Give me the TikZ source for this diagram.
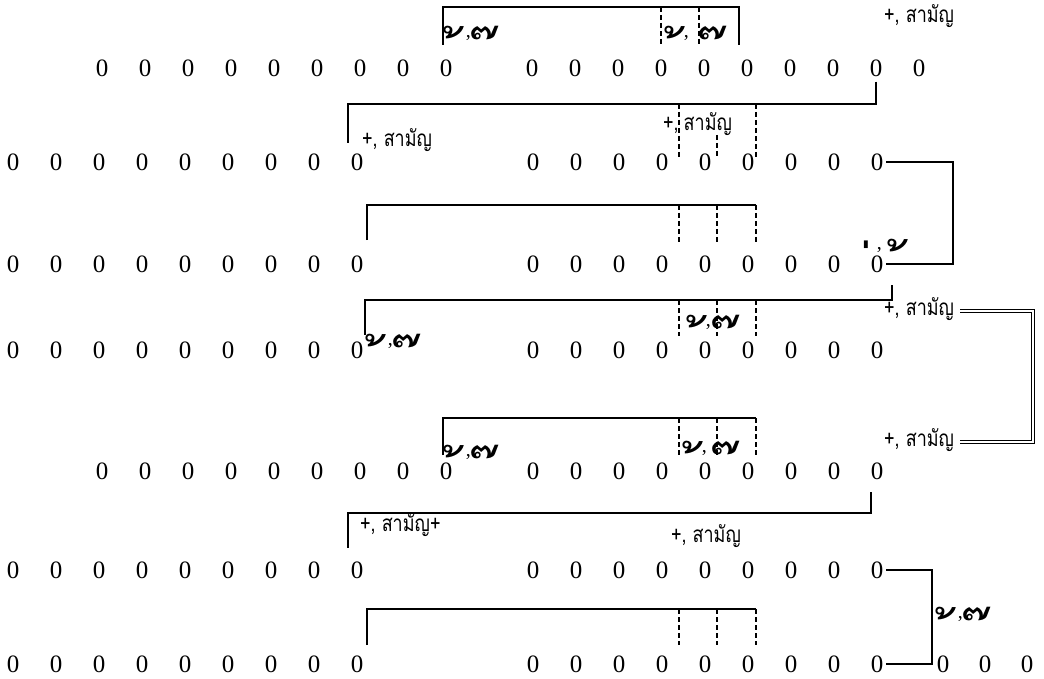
\documentclass[tikz,border=0pt]{standalone}
\usepackage{fontspec}
\setmainfont{Liberation Serif}
\newfontfamily\thaifont[Script=Thai]{Loma}
\newfontfamily\thailab[Script=Thai,FakeStretch=0.8]{Loma}
\newcommand\zerofont{\fontsize{25}{25}\selectfont}
\newcommand\labfont{\thailab\fontsize{22.5}{22.5}\selectfont}
\newcommand\tmk[1]{\raisebox{-48pt}[12pt][0pt]{\thaifont\fontsize{56}{56}\selectfont\char"A0#1}}
\newcommand\tcm{{\fontsize{20}{20}\selectfont,}}
\newcommand\tpair[2]{\tmk{#1}\hspace{3pt}\tcm\hspace{9pt}\tmk{#2}}
\newcommand\vseg[5]{\coordinate (#1t) at (#2,#3); \coordinate (#1b) at (#2,#4); \draw[#5] (#1t) -- (#1b);}
\begin{document}
\begin{tikzpicture}[x=1pt,y=-1pt,
  zero/.style={font=\zerofont, inner sep=0pt},
  lab/.style={font=\labfont, inner sep=0pt},
  tone/.style={inner sep=0pt, anchor=base west},
  ln/.style={line width=1.4pt},
  dl/.style={line width=1.1pt, dash pattern=on 5pt off 3pt},
  dbl/.style={double, double distance=2.2pt, line width=1pt}]
\useasboundingbox[fill=white] (0,0) rectangle (1044,679);
% ---------- rows of zeros ----------
\foreach \k in {1,...,9} \node[zero] (r1a\k) at ({102+43*(\k-1)},68) {0};
\foreach \k in {1,...,10} \node[zero] (r1b\k) at ({532+43*(\k-1)},68) {0};
\foreach \k in {1,...,9} \node[zero] (r2a\k) at ({13+43*(\k-1)},162) {0};
\foreach \k in {1,...,9} \node[zero] (r2b\k) at ({533+43*(\k-1)},162) {0};
\foreach \k in {1,...,9} \node[zero] (r3a\k) at ({13+43*(\k-1)},264) {0};
\foreach \k in {1,...,9} \node[zero] (r3b\k) at ({533+43*(\k-1)},264) {0};
\foreach \k in {1,...,9} \node[zero] (r4a\k) at ({13+43*(\k-1)},350) {0};
\foreach \k in {1,...,9} \node[zero] (r4b\k) at ({533+43*(\k-1)},350) {0};
\foreach \k in {1,...,9} \node[zero] (r5a\k) at ({102+43*(\k-1)},471) {0};
\foreach \k in {1,...,9} \node[zero] (r5b\k) at ({533+43*(\k-1)},471) {0};
\foreach \k in {1,...,9} \node[zero] (r6a\k) at ({13+43*(\k-1)},570) {0};
\foreach \k in {1,...,9} \node[zero] (r6b\k) at ({533+43*(\k-1)},570) {0};
\foreach \k in {1,...,9} \node[zero] (r7a\k) at ({13+43*(\k-1)},664) {0};
\foreach \k in {1,...,9} \node[zero] (r7b\k) at ({533+43*(\k-1)},664) {0};
\foreach \k in {1,...,3} \node[zero] (r7c\k) at ({943+42*(\k-1)},664) {0};
% ---------- bracket 1 ----------
\coordinate (b1l) at (443,45); \coordinate (b1tl) at (443,7);
\coordinate (b1tr) at (739,7); \coordinate (b1r) at (739,45);
\draw[ln] (b1l) -- (b1tl) -- (b1tr) -- (b1r);
\vseg{d1a}{661}{7}{45}{dl}
\vseg{d1b}{699}{7}{45}{dl}
\node[tone] (t1a) at (447,38) {\tpair{้}{๊}};
\node[tone] (t1b) at (668,38) {\tmk{้}\tcm};
\node[tone] (t1c) at (708,38) {\tmk{๊}};
\node[lab,anchor=west] (L1) at (884,16) {+, สามัญ};
% ---------- bracket 2 ----------
\coordinate (b2l) at (348,104); \coordinate (b2e) at (348,143);
\draw[ln] ([yshift=-5pt]r1b9.south) |- (b2l) -- (b2e);
\vseg{d2a}{679}{104}{158}{dl}
\vseg{d2b}{717}{135}{158}{dl}
\vseg{d2c}{756}{104}{158}{dl}
\node[lab,anchor=west] (L2a) at (362,140) {+, สามัญ};
\node[lab,anchor=west] (L2b) at (663,124) {+,\hspace{5pt}สามัญ};
% ---------- connector rows 2-3 ----------
\coordinate (c23) at (953,210);
\draw[ln] ([xshift=3pt]r2b9.east) -| (c23) |- ([xshift=3pt]r3b9.east);
\node[tone] (t3) at (858,250) {\tpair{่}{้}};
% ---------- bracket 3 ----------
\coordinate (b3l) at (367,240); \coordinate (b3tl) at (367,205); \coordinate (b3tr) at (756,205);
\draw[ln] (b3l) -- (b3tl) -- (b3tr);
\vseg{d3a}{679}{205}{242}{dl}
\vseg{d3b}{717}{205}{242}{dl}
\vseg{d3c}{756}{205}{242}{dl}
% ---------- bracket 4 ----------
\coordinate (b4r) at (892,285); \coordinate (b4l) at (365,300); \coordinate (b4e) at (365,335);
\draw[ln] (b4r) |- (b4l) -- (b4e);
\vseg{d4a}{679}{300}{336}{dl}
\vseg{d4b}{717}{300}{336}{dl}
\vseg{d4c}{756}{300}{336}{dl}
\node[tone] (t4a) at (369,345) {\tpair{้}{๊}};
\node[tone] (t4b) at (690,326) {\tmk{้}\tcm};
\node[tone] (t4c) at (721,326) {\tmk{๊}};
\node[lab,anchor=west] (L4) at (884,309) {+, สามัญ};
% ---------- double connector ----------
\coordinate (dA) at (960,311); \coordinate (dM) at (1033,376); \coordinate (dD) at (960,442);
\draw[dbl] (dA) -| (dM) |- (dD);
% ---------- bracket 5 ----------
\coordinate (b5l) at (443,455); \coordinate (b5tl) at (443,418); \coordinate (b5tr) at (756,418);
\draw[ln] (b5l) -- (b5tl) -- (b5tr);
\vseg{d5a}{679}{418}{455}{dl}
\vseg{d5b}{717}{418}{455}{dl}
\vseg{d5c}{756}{418}{455}{dl}
\node[tone] (t5a) at (447,456) {\tpair{้}{๊}};
\node[tone] (t5b) at (686,452) {\tmk{้}\tcm};
\node[tone] (t5c) at (721,452) {\tmk{๊}};
\node[lab,anchor=west] (L5) at (884,440) {+, สามัญ};
% ---------- bracket 6 ----------
\coordinate (b6r) at (871,492); \coordinate (b6l) at (348,513); \coordinate (b6e) at (348,548);
\draw[ln] (b6r) |- (b6l) -- (b6e);
\node[lab,anchor=west] (L6a) at (360,525) {+, สามัญ+};
\node[lab] (L6b) at (706,536) {+, สามัญ};
% ---------- connector rows 6-7 ----------
\coordinate (c67) at (932,620);
\draw[ln] ([xshift=3pt]r6b9.east) -| (c67) |- ([xshift=3pt]r7b9.east);
\node[tone] (t6) at (939,618) {\tpair{้}{๊}};
% ---------- bracket 7 ----------
\coordinate (b7l) at (367,645); \coordinate (b7tl) at (367,609); \coordinate (b7tr) at (756,609);
\draw[ln] (b7l) -- (b7tl) -- (b7tr);
\vseg{d7a}{679}{609}{645}{dl}
\vseg{d7b}{717}{609}{645}{dl}
\vseg{d7c}{756}{609}{645}{dl}
\end{tikzpicture}
\end{document}
